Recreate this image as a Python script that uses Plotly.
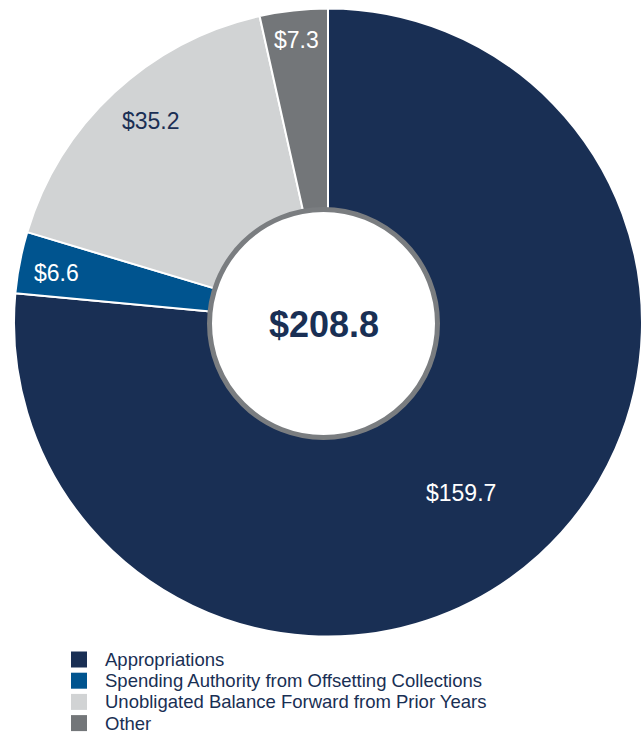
import math
import plotly.graph_objects as go

categories = [
    "Appropriations",
    "Spending Authority from Offsetting Collections",
    "Unobligated Balance Forward from Prior Years",
    "Other",
]
values = [159.7, 6.6, 35.2, 7.3]
total_label = "$208.8"

colors = ["#192f54", "#00548f", "#d1d3d4", "#737679"]
label_colors = ["#ffffff", "#ffffff", "#1b2f54", "#ffffff"]
label_radius_px = [216, 276, 268, 284]
label_angle_shift = [4.3, -0.8, 1.7, 0]

FONT = "Liberation Sans, Arial, Helvetica, sans-serif"
NAVY = "#192f54"

# page body margin is removed below, so page px == figure px
W, H = 643, 734
cx, cy, R = 328, 322.5, 314       # outer ring (px)
hx, hy, hr = 323.5, 323.5, 114    # centre disc ring (px)
pie_hole = 110


def fx(px):
    return px / W


def fy(py):
    return 1 - py / H


fig = go.Figure()
fig.add_trace(go.Pie(
    labels=categories,
    values=values,
    sort=False,
    direction="clockwise",
    rotation=0,
    hole=pie_hole / R,
    marker=dict(colors=colors, line=dict(color="#ffffff", width=2)),
    textinfo="none",
    hoverinfo="label+value",
    showlegend=False,
    domain=dict(x=[fx(cx - R), fx(cx + R)], y=[fy(cy + R), fy(cy - R)]),
))

annotations = []
shapes = []

# slice labels positioned from the data's cumulative angles
total = sum(values)
cum = 0.0
for v, lc, rp, sh in zip(values, label_colors, label_radius_px, label_angle_shift):
    mid = (cum + v / 2) / total * 2 * math.pi + math.radians(sh)
    cum += v
    px = cx + rp * math.sin(mid)
    py = cy - rp * math.cos(mid)
    annotations.append(dict(
        x=fx(px), y=fy(py), xref="paper", yref="paper",
        text=f"${v:.1f}", showarrow=False,
        font=dict(family=FONT, size=23, color=lc),
        xanchor="center", yanchor="middle",
    ))

# centre disc with grey ring
shapes.append(dict(
    type="circle", xref="paper", yref="paper",
    x0=fx(hx - hr), x1=fx(hx + hr), y0=fy(hy + hr), y1=fy(hy - hr),
    line=dict(color="#7a7d80", width=5), fillcolor="#ffffff",
    layer="above",
))
annotations.append(dict(
    x=fx(hx), y=fy(hy + 1), xref="paper", yref="paper",
    text=f"<b>{total_label}</b>", showarrow=False,
    font=dict(family=FONT, size=36, color=NAVY),
    xanchor="center", yanchor="middle",
))

# legend (built from categories / colours)
leg_x, leg_y0, leg_dy, sq = 71, 659.5, 21.2, 16
for i, (name, c) in enumerate(zip(categories, colors)):
    yc = leg_y0 + i * leg_dy
    shapes.append(dict(
        type="rect", xref="paper", yref="paper",
        x0=fx(leg_x), x1=fx(leg_x + sq), y0=fy(yc + sq / 2), y1=fy(yc - sq / 2),
        fillcolor=c, line=dict(width=0), layer="above",
    ))
    annotations.append(dict(
        x=fx(103), y=fy(yc), xref="paper", yref="paper",
        text=name, showarrow=False,
        font=dict(family=FONT, size=18.5, color=NAVY),
        xanchor="left", yanchor="middle",
    ))

fig.update_layout(
    width=W, height=H,
    margin=dict(l=0, r=0, t=0, b=0, autoexpand=False),
    paper_bgcolor="#ffffff",
    plot_bgcolor="#ffffff",
    annotations=annotations,
    shapes=shapes,
    showlegend=False,
)

fig.write_html(
    "out.html",
    config={"displayModeBar": False},
    post_script="document.body.style.margin='0';document.body.style.overflow='hidden';",
)
